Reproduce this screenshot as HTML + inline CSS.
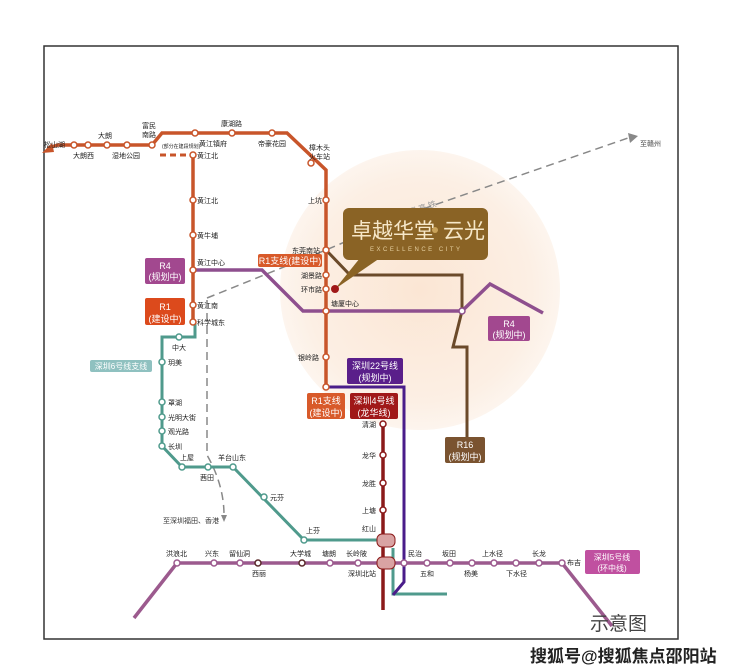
<!DOCTYPE html>
<html><head><meta charset="utf-8"><style>
html,body{margin:0;padding:0;background:#fff;width:740px;height:671px;overflow:hidden}
svg text{font-family:"Liberation Sans","Noto Sans CJK SC",sans-serif}
</style></head><body>
<svg width="740" height="671" viewBox="0 0 740 671" xmlns="http://www.w3.org/2000/svg">
<defs>
<radialGradient id="g" cx="0.5" cy="0.5" r="0.5">
<stop offset="0" stop-color="#fbe6d4"/><stop offset="0.8" stop-color="#fcefe4"/><stop offset="1" stop-color="#fdf5ee"/>
</radialGradient>
</defs>
<rect x="44" y="46" width="634" height="593" fill="#fff" stroke="#333" stroke-width="1.5"/>
<circle cx="420" cy="290" r="140" fill="url(#g)"/>
<!-- gaoshe dashed -->
<g fill="none" stroke="#888" stroke-width="1.5" stroke-dasharray="8,5">
<path d="M207,298 L326,250 L420,210 L628,138"/>
<path d="M207,300 L207,455 Q224,485 224,515"/>
<path d="M160,155 L193,155" stroke="#c8552a" stroke-width="3" stroke-dasharray="6,4"/>
</g>
<path d="M628,133 L638,136 L630,143 Z" fill="#888"/>
<path d="M221,515 L227,515 L224,522 Z" fill="#888"/>
<text x="640" y="146" font-size="7" fill="#444">至赣州</text>
<text x="400" y="218" font-size="8" fill="#999" transform="rotate(-18 400 218)">赣 深 高 铁</text>
<text x="163" y="523" font-size="7" fill="#333">至深圳福田、香港</text>
<!-- R4 purple -->
<path d="M193,270 L262,270 L303,311 L462,311 L490,284 L543,313" fill="none" stroke="#8e4f8e" stroke-width="3.5"/>
<!-- R16 brown -->
<path d="M326,250 L350,275 L462,275 L462,311 L453,347 L467,347 L467,437" fill="none" stroke="#6b4a2a" stroke-width="3"/>
<!-- orange R1 -->
<path d="M48,148 L58,145 L152,145 L162,133 L287,133 L326,170 L326,387" fill="none" stroke="#c8552a" stroke-width="3.5"/>
<path d="M42,153 L52,143 L54,152 Z" fill="#c8552a"/>
<path d="M193,155 L193,322" fill="none" stroke="#c8552a" stroke-width="3.5"/>
<!-- teal 6 -->
<path d="M195,322 L195,337 L162,337 L162,446 L182,467 L233,467 L304,540 L388,540 M393,548 L393,594 L447,594" fill="none" stroke="#4f9a8c" stroke-width="3"/>
<!-- purple 22 -->
<path d="M326,387 L404,387 L404,582 L393,595" fill="none" stroke="#4a1d8a" stroke-width="3"/>
<!-- red 4 -->
<path d="M383,424 L383,610" fill="none" stroke="#8b1a1a" stroke-width="3.5"/>
<!-- R5 -->
<path d="M134,618 L177,563 L562,563 L612,626" fill="none" stroke="#9c5a8e" stroke-width="3.5"/>
<!-- interchange pills -->
<rect x="377" y="534" width="18" height="13" rx="5" fill="#d9a3a3" stroke="#8b1a1a" stroke-width="1"/>
<rect x="377" y="557" width="18" height="12" rx="5" fill="#d9a3a3" stroke="#8b1a1a" stroke-width="1"/>
<!-- stations -->
<g fill="#fff" stroke-width="1.5">
<g stroke="#c8552a">
<circle cx="74" cy="145" r="3"/><circle cx="88" cy="145" r="3"/><circle cx="107" cy="145" r="3"/><circle cx="127" cy="145" r="3"/><circle cx="152" cy="145" r="3"/>
<circle cx="195" cy="133" r="3"/><circle cx="232" cy="133" r="3"/><circle cx="272" cy="133" r="3"/><circle cx="311" cy="163" r="3"/>
<circle cx="326" cy="200" r="3"/><circle cx="326" cy="250" r="3"/><circle cx="326" cy="275" r="3"/><circle cx="326" cy="289" r="3"/><circle cx="326" cy="311" r="3"/><circle cx="326" cy="357" r="3"/><circle cx="326" cy="387" r="3"/>
<circle cx="193" cy="155" r="3"/><circle cx="193" cy="200" r="3"/><circle cx="193" cy="235" r="3"/><circle cx="193" cy="270" r="3"/><circle cx="193" cy="305" r="3"/><circle cx="193" cy="322" r="3"/>
</g>
<circle cx="462" cy="311" r="3" stroke="#8e4f8e"/>
<g stroke="#4f9a8c">
<circle cx="179" cy="337" r="3"/><circle cx="162" cy="362" r="3"/><circle cx="162" cy="402" r="3"/><circle cx="162" cy="417" r="3"/><circle cx="162" cy="431" r="3"/><circle cx="162" cy="446" r="3"/>
<circle cx="182" cy="467" r="3"/><circle cx="208" cy="467" r="3"/><circle cx="233" cy="467" r="3"/><circle cx="264" cy="497" r="3"/><circle cx="304" cy="540" r="3"/>
</g>
<g stroke="#8b1a1a">
<circle cx="383" cy="424" r="3"/><circle cx="383" cy="455" r="3"/><circle cx="383" cy="483" r="3"/><circle cx="383" cy="510" r="3"/>
</g>
<g stroke="#9c5a8e">
<circle cx="177" cy="563" r="3"/><circle cx="214" cy="563" r="3"/><circle cx="240" cy="563" r="3"/><circle cx="258" cy="563" r="3" stroke="#5a2a2a"/><circle cx="302" cy="563" r="3" stroke="#5a2a2a"/><circle cx="330" cy="563" r="3"/><circle cx="358" cy="563" r="3"/>
<circle cx="404" cy="563" r="3"/><circle cx="427" cy="563" r="3"/><circle cx="450" cy="563" r="3"/><circle cx="472" cy="563" r="3"/><circle cx="494" cy="563" r="3"/><circle cx="516" cy="563" r="3"/><circle cx="539" cy="563" r="3"/><circle cx="562" cy="563" r="3"/>
</g>
</g>
<!-- callout -->
<path d="M360,258 L335,289 L380,258 Z" fill="#8a6325"/>
<rect x="343" y="208" width="145" height="52" rx="6" fill="#8a6325"/>
<text x="351" y="238" font-size="21" fill="#f6e7c8">卓越华堂</text>
<circle cx="435" cy="230" r="3" fill="#c9a25a"/>
<text x="443" y="238" font-size="21" fill="#f6e7c8">云光</text>
<text x="370" y="251" font-size="6" fill="#e6d0a0" letter-spacing="2.5">EXCELLENCE CITY</text>
<circle cx="335" cy="289" r="4" fill="#a01818"/>
<!-- label boxes -->
<g font-size="9" fill="#fff" text-anchor="middle">
<rect x="145" y="258" width="40" height="26" rx="2" fill="#a2488f"/><text x="165" y="269">R4</text><text x="165" y="280">(规划中)</text>
<rect x="488" y="316" width="42" height="25" rx="2" fill="#a2488f"/><text x="509" y="327">R4</text><text x="509" y="338">(规划中)</text>
<rect x="145" y="298" width="40" height="27" rx="2" fill="#dc4a1c"/><text x="165" y="310">R1</text><text x="165" y="322">(建设中)</text>
<rect x="258" y="254" width="64" height="13" rx="2" fill="#d85a2a"/><text x="290" y="264">R1支线(建设中)</text>
<rect x="307" y="393" width="38" height="26" rx="2" fill="#d85a2a"/><text x="326" y="404">R1支线</text><text x="326" y="416">(建设中)</text>
<rect x="347" y="358" width="56" height="26" rx="2" fill="#5a1f8a"/><text x="375" y="369">深圳22号线</text><text x="375" y="381">(规划中)</text>
<rect x="350" y="393" width="48" height="26" rx="2" fill="#a01818"/><text x="374" y="404">深圳4号线</text><text x="374" y="416">(龙华线)</text>
<rect x="445" y="437" width="40" height="26" rx="2" fill="#7a5330"/><text x="465" y="448">R16</text><text x="465" y="460">(规划中)</text>
<rect x="585" y="550" width="55" height="24" rx="2" fill="#c050a0"/><text x="612" y="560" font-size="8">深圳5号线</text><text x="612" y="571" font-size="8">(环中线)</text>
<rect x="90" y="360" width="62" height="12" rx="2" fill="#8fc1c0"/><text x="121" y="369" font-size="8">深圳6号线支线</text>
</g>
<!-- station labels -->
<g font-size="7" fill="#222">
<text x="44" y="147">松山湖</text><text x="73" y="158">大朗西</text><text x="98" y="138">大朗</text><text x="112" y="158">湿地公园</text>
<text x="142" y="128">富民</text><text x="142" y="137">南路</text><text x="162" y="148" font-size="5">(部分在建段规划)</text>
<text x="199" y="146">黄江镇府</text><text x="221" y="126">康湖路</text><text x="258" y="146">帝豪花园</text><text x="309" y="150">樟木头</text><text x="309" y="159">火车站</text>
<text x="197" y="158">黄江北</text><text x="197" y="203">黄江北</text><text x="197" y="238">黄牛埔</text><text x="197" y="265">黄江中心</text><text x="197" y="308">黄江南</text><text x="197" y="325">科学城东</text>
<text x="308" y="203">上坑</text><text x="292" y="253">东莞南站</text><text x="301" y="278">湖景路</text><text x="301" y="292">环市路</text><text x="331" y="306">塘厦中心</text><text x="298" y="360">银岭路</text>
<text x="172" y="350">中大</text><text x="168" y="365">玥美</text><text x="168" y="405">罩湖</text><text x="168" y="420">光明大街</text><text x="168" y="434">观光路</text><text x="168" y="449">长圳</text>
<text x="180" y="460">上屋</text><text x="200" y="480">茜田</text><text x="218" y="460">羊台山东</text><text x="270" y="500">元芬</text><text x="306" y="533">上芬</text>
<text x="362" y="427">清湖</text><text x="362" y="458">龙华</text><text x="362" y="486">龙胜</text><text x="362" y="513">上塘</text><text x="362" y="531">红山</text>
<text x="166" y="556">洪浪北</text><text x="205" y="556">兴东</text><text x="229" y="556">留仙洞</text><text x="252" y="576">西丽</text><text x="290" y="556">大学城</text><text x="322" y="556">塘朗</text><text x="346" y="556">长岭陂</text><text x="348" y="576">深圳北站</text>
<text x="408" y="556">民治</text><text x="420" y="576">五和</text><text x="442" y="556">坂田</text><text x="464" y="576">杨美</text><text x="482" y="556">上水径</text><text x="506" y="576">下水径</text><text x="532" y="556">长龙</text><text x="567" y="565">布吉</text>
</g>
<text x="590" y="630" font-size="19" fill="#444">示意图</text>
<text x="530" y="662" font-size="17" font-weight="bold" fill="#222">搜狐号@搜狐焦点邵阳站</text>
</svg>
</body></html>
